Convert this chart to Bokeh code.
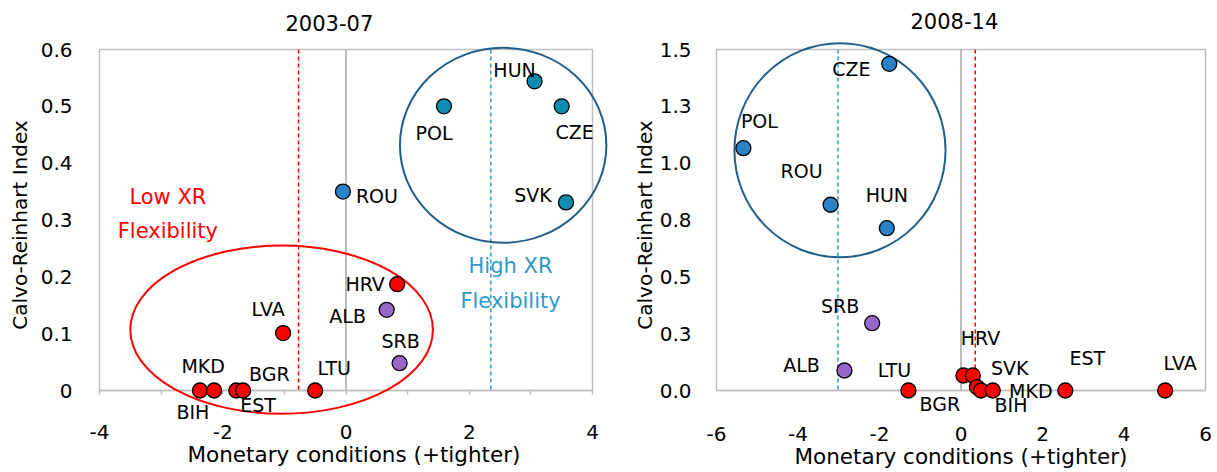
import math
from bokeh.plotting import figure
from bokeh.layouts import row
from bokeh.models import ColumnDataSource, FixedTicker, Span
from bokeh.core.properties import value
from bokeh.embed import file_html
from bokeh.resources import INLINE

FONT = "DejaVu Sans"
GRAY = "#BFBFBF"
AXIS0 = "#A6A6A6"
COLORS = {"peg": "#FF0000", "float": "#0F8DB0", "float_b": "#2B82C6", "other": "#9966CC"}
X_TITLE = "Monetary conditions (+tighter)"
Y_TITLE = "Calvo-Reinhart Index"

# ---------------- 2003-07 ----------------
title_a = "2003-07"
countries_a = ["ROU", "POL", "HUN", "CZE", "SVK", "HRV", "ALB", "LVA", "SRB", "LTU", "BIH", "MKD", "BGR", "EST"]
monetary_a = [-0.05, 1.59, 3.06, 3.50, 3.57, 0.83, 0.66, -1.02, 0.87, -0.50, -2.37, -2.14, -1.78, -1.67]
calvo_a = [0.35, 0.50, 0.544, 0.50, 0.331, 0.187, 0.142, 0.101, 0.048, 0.0, 0.0, 0.0, 0.0, 0.0]
group_a = ["float_b", "float", "float", "float", "float", "peg", "other", "peg", "other", "peg", "peg", "peg", "peg", "peg"]
# label placement (pixels, relative to the point)
label_dx_a = [34, -10, -20, 13, -33, -32, -39, -15, 1, 19, -7, -11, 33, 15]
label_dy_a = [4, 27, -11, 26, -7, 0, 6, -24, -22, -23, 21, -25, -17, 14]
xticks_a = [-4, -2, 0, 2, 4]
xticklabels_a = ["-4", "-2", "0", "2", "4"]
xminor_a = [-3, -1, 1, 3]
yticks_a = [0, 0.1, 0.2, 0.3, 0.4, 0.5, 0.6]
yticklabels_a = ["0", "0.1", "0.2", "0.3", "0.4", "0.5", "0.6"]
thresholds_a = {"low": -0.77, "high": 2.35}
# grouping ellipses: (center x, center y, width, height)
ellipse_high_a = (2.55, 0.4315, 3.35, 0.343)
ellipse_low_a = (-1.045, 0.107, 4.91, 0.296)
note_low_a = (["Low XR", "Flexibility"], [-2.89, -2.89], [0.340, 0.280])
note_high_a = (["High XR", "Flexibility"], [2.67, 2.67], [0.219, 0.158])

# ---------------- 2008-14 ----------------
title_b = "2008-14"
countries_b = ["CZE", "POL", "ROU", "HUN", "SRB", "ALB", "LTU", "HRV", "SVK", "BGR", "BIH", "MKD", "EST", "LVA"]
monetary_b = [-1.76, -5.34, -3.20, -1.82, -2.18, -2.86, -1.29, 0.06, 0.29, 0.39, 0.49, 0.78, 2.56, 5.01]
calvo_b = [1.437, 1.066, 0.817, 0.714, 0.296, 0.088, 0.0, 0.066, 0.066, 0.015, 0.0, 0.0, 0.0, 0.0]
group_b = ["float_b", "float_b", "float_b", "float_b", "other", "other", "peg", "peg", "peg", "peg", "peg", "peg", "peg", "peg"]
label_dx_b = [-38, 16, -29, 0, -32, -43, -14, 17, 37, -37, 30, 38, 22, 15]
label_dy_b = [5, -27, -34, -33, -17, -5, -21, -37, -7, 17, 14, 0, -33, -28]
xticks_b = [-6, -4, -2, 0, 2, 4, 6]
xticklabels_b = ["-6", "-4", "-2", "0", "2", "4", "6"]
yticks_b = [0, 0.25, 0.5, 0.75, 1.0, 1.25, 1.5]
yticklabels_b = ["0.0", "0.3", "0.5", "0.8", "1.0", "1.3", "1.5"]
thresholds_b = {"low": 0.35, "high": -3.02}
ellipse_high_b = (-2.97, 1.057, 5.18, 0.942)


def make_panel(title, countries, xs, ys, groups, dxs, dys, xr, yr,
               xticks, xlabels, xminor, yticks, ylabels, thresholds,
               borders, frame, title_off,
               xtick_out, xstandoff, ystandoff, xlab_off, ylab_off):
    bl, br, bt, bb = borders
    fw, fh = frame
    p = figure(width=bl + fw + br, height=bt + fh + bb, x_range=xr, y_range=yr,
               output_backend="svg", toolbar_location=None,
               min_border_left=bl, min_border_right=br,
               min_border_top=bt, min_border_bottom=bb)
    p.background_fill_color = "white"
    p.border_fill_color = "white"
    p.grid.visible = False
    p.outline_line_color = GRAY
    p.outline_line_width = 1.5

    xa = p.xaxis[0]
    xa.ticker = FixedTicker(ticks=xticks, minor_ticks=xminor)
    xa.major_label_overrides = {float(t): l for t, l in zip(xticks, xlabels)}
    xa.axis_line_color = GRAY
    xa.axis_line_width = 1.5
    xa.major_tick_line_color = GRAY
    xa.minor_tick_line_color = GRAY
    xa.major_tick_line_width = 1.5
    xa.minor_tick_line_width = 1.5
    xa.major_tick_in = 0
    xa.minor_tick_in = 0
    xa.major_tick_out = xtick_out
    xa.minor_tick_out = xtick_out
    if xtick_out == 0:
        xa.major_tick_line_color = None
        xa.minor_tick_line_color = None
    xa.major_label_standoff = xstandoff
    xa.major_label_text_font = FONT
    xa.major_label_text_font_size = "20px"
    xa.major_label_text_color = "#000000"

    ya = p.yaxis[0]
    ya.ticker = FixedTicker(ticks=yticks, minor_ticks=[])
    ya.major_label_overrides = {float(t): l for t, l in zip(yticks, ylabels)}
    ya.axis_line_color = None
    ya.major_tick_line_color = None
    ya.minor_tick_line_color = None
    ya.major_tick_in = 0
    ya.major_tick_out = 0
    ya.minor_tick_in = 0
    ya.minor_tick_out = 0
    ya.major_label_standoff = ystandoff
    ya.major_label_text_font = FONT
    ya.major_label_text_font_size = "20px"
    ya.major_label_text_color = "#000000"

    # chart title and axis titles, anchored to the frame through the plot's own scales
    xmid = (xr[0] + xr[1]) / 2
    ymid = (yr[0] + yr[1]) / 2
    p.text(x=[xr[0]], y=[yr[1]], text=[title], x_offset=title_off[0], y_offset=title_off[1],
           text_align="left", text_baseline="middle", text_font=value(FONT),
           text_font_size=value("21px"), text_color="#000000", level="overlay")
    p.text(x=[xmid], y=[yr[0]], text=[X_TITLE], x_offset=xlab_off[0], y_offset=xlab_off[1],
           text_align="center", text_baseline="middle", text_font=value(FONT),
           text_font_size=value("21.5px"), text_color="#000000", level="overlay")
    p.text(x=[xr[0]], y=[ymid], text=[Y_TITLE], x_offset=ylab_off[0], y_offset=ylab_off[1],
           angle=math.pi / 2, text_align="center", text_baseline="middle", text_font=value(FONT),
           text_font_size=value("20px"), text_color="#000000", level="overlay")

    # vertical axis at zero
    p.add_layout(Span(location=0, dimension="height", line_color=AXIS0, line_width=1.5, level="underlay"))
    # threshold lines
    p.add_layout(Span(location=thresholds["low"], dimension="height", line_color="#FF0000",
                      line_width=1.5, line_dash="4 3"))
    p.add_layout(Span(location=thresholds["high"], dimension="height", line_color="#2E9ACB",
                      line_width=1.5, line_dash="4 3"))

    src = ColumnDataSource(dict(x=xs, y=ys, name=countries,
                                color=[COLORS[g] for g in groups], dx=dxs, dy=dys))
    return p, src


def add_ellipse(p, spec, color):
    cx, cy, w, h = spec
    p.ellipse(x=[cx], y=[cy], width=[w], height=[h], fill_color=None,
              line_color=color, line_width=2, level="overlay")


def add_points(p, src):
    p.scatter(x="x", y="y", source=src, size=15, fill_color="color",
              line_color="#000000", line_width=1.3, level="overlay")
    p.text(x="x", y="y", text="name", source=src, x_offset="dx", y_offset="dy",
           text_align="center", text_baseline="middle", text_font=value(FONT),
           text_font_size=value("19px"), text_color="#000000", level="overlay")


def add_note(p, note, color):
    texts, nx, ny = note
    p.text(x=nx, y=ny, text=texts, text_align="center", text_baseline="middle",
           text_font=value(FONT), text_font_size=value("21px"), text_color=color,
           level="overlay")


p1, src1 = make_panel(title_a, countries_a, monetary_a, calvo_a, group_a, label_dx_a, label_dy_a,
                      (-4, 4), (0, 0.6), xticks_a, xticklabels_a, xminor_a, yticks_a, yticklabels_a,
                      thresholds_a, borders=(99, 18, 47, 80), frame=(493, 345),
                      title_off=(186, -27),
                      xtick_out=4, xstandoff=30, ystandoff=27,
                      xlab_off=(8, 64), ylab_off=(-80, 5))
add_ellipse(p1, ellipse_high_a, "#1F5F8E")
add_ellipse(p1, ellipse_low_a, "#FF0000")
add_points(p1, src1)
add_note(p1, note_low_a, "#FF0000")
add_note(p1, note_high_a, "#2E9ACB")

p2, src2 = make_panel(title_b, countries_b, monetary_b, calvo_b, group_b, label_dx_b, label_dy_b,
                      (-6, 6), (0, 1.5), xticks_b, xticklabels_b, [], yticks_b, yticklabels_b,
                      thresholds_b, borders=(106, 12, 49, 82), frame=(489, 341),
                      title_off=(194, -29),
                      xtick_out=0, xstandoff=36, ystandoff=25,
                      xlab_off=(0, 66), ylab_off=(-72, 5))
add_ellipse(p2, ellipse_high_b, "#1F5F8E")
add_points(p2, src2)

layout = row(p1, p2)
open("out.html", "w").write(file_html(layout, INLINE))
